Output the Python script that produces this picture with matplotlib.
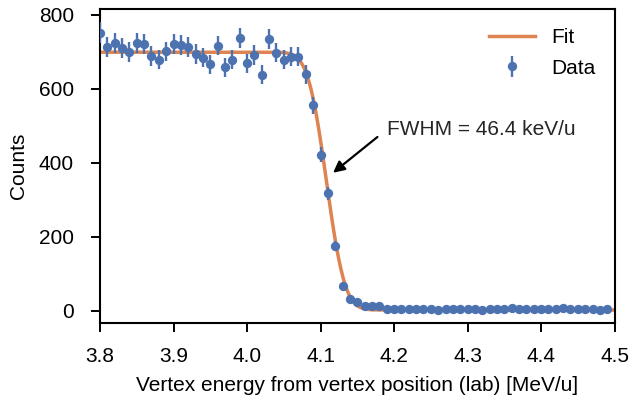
import matplotlib.pyplot as plt
import numpy as np
from math import erfc

plt.rcParams['font.family'] = ['Liberation Sans', 'DejaVu Sans']
plt.rcParams['font.size'] = 15

# энергия вершины (центры бинов), МэВ/нуклон
energy = np.round(np.arange(3.80, 4.495, 0.01), 2)

# отсчёты
counts = [752, 714, 725, 710, 700, 725, 722, 689, 679, 701,
          722, 719, 713, 694, 684, 666, 717, 658, 679, 737,
          669, 691, 638, 735, 698, 679, 687, 687, 639, 555,
          422, 318, 174, 66, 31, 24, 12, 12, 12, 4,
          4, 5, 5, 5, 5, 4, 3, 4, 4, 5,
          5, 4, 3, 4, 4, 5, 6, 5, 4, 4,
          5, 5, 4, 7, 4, 4, 5, 4, 3, 4]
counts = np.array(counts, dtype=float)
errors = np.sqrt(counts)

# параметры подгонки (ступенька erfc)
amp = 699.0
mu = 4.108
fwhm = 0.0464
bg = 2.0
sigma = fwhm / 2.3548

x = np.linspace(3.8, 4.5, 700)
fit = np.array([bg + (amp - bg) * 0.5 * erfc((xi - mu) / (np.sqrt(2) * sigma)) for xi in x])

blue = '#4C72B0'
orange = '#DD8452'

fig = plt.figure(figsize=(6.31, 4.01), dpi=100)
ax = fig.add_axes([0.1585, 0.1938, 0.8155, 0.783])

ax.plot(x, fit, color=orange, linewidth=2.5, label='Fit', zorder=2)
ax.errorbar(energy, counts, yerr=errors, fmt='o', color=blue, markersize=5.7,
            elinewidth=1.7, capsize=0, label='Data', zorder=3)

ax.annotate('FWHM = 46.4 keV/u', xy=(4.117, 373), xytext=(4.19, 490),
            ha='left', va='center', fontsize=15, color='#262626',
            arrowprops=dict(arrowstyle='-|>', color='black', lw=1.6,
                            mutation_scale=17, shrinkA=6, shrinkB=0,
                            relpos=(0, 0.5)))

ax.set_xlim(3.8, 4.5)
ax.set_ylim(-34, 815)
ax.set_xticks(np.arange(3.8, 4.51, 0.1))
ax.set_xticklabels(['3.8', '3.9', '4.0', '4.1', '4.2', '4.3', '4.4', '4.5'])
ax.set_yticks([0, 200, 400, 600, 800])
ax.tick_params(direction='out', length=6.7, width=1.4, labelsize=15)
ax.tick_params(axis='x', pad=10.5)
ax.tick_params(axis='y', pad=12)
for s in ax.spines.values():
    s.set_linewidth(1.5)

ax.set_xlabel('Vertex energy from vertex position (lab) [MeV/u]', fontsize=15, labelpad=7)
ax.set_ylabel('Counts', fontsize=15, labelpad=8)
ax.legend(loc='upper right', frameon=False, fontsize=15, handlelength=2.2,
          handletextpad=0.8, labelspacing=0.55)

fig.savefig('out.png', dpi=100)
